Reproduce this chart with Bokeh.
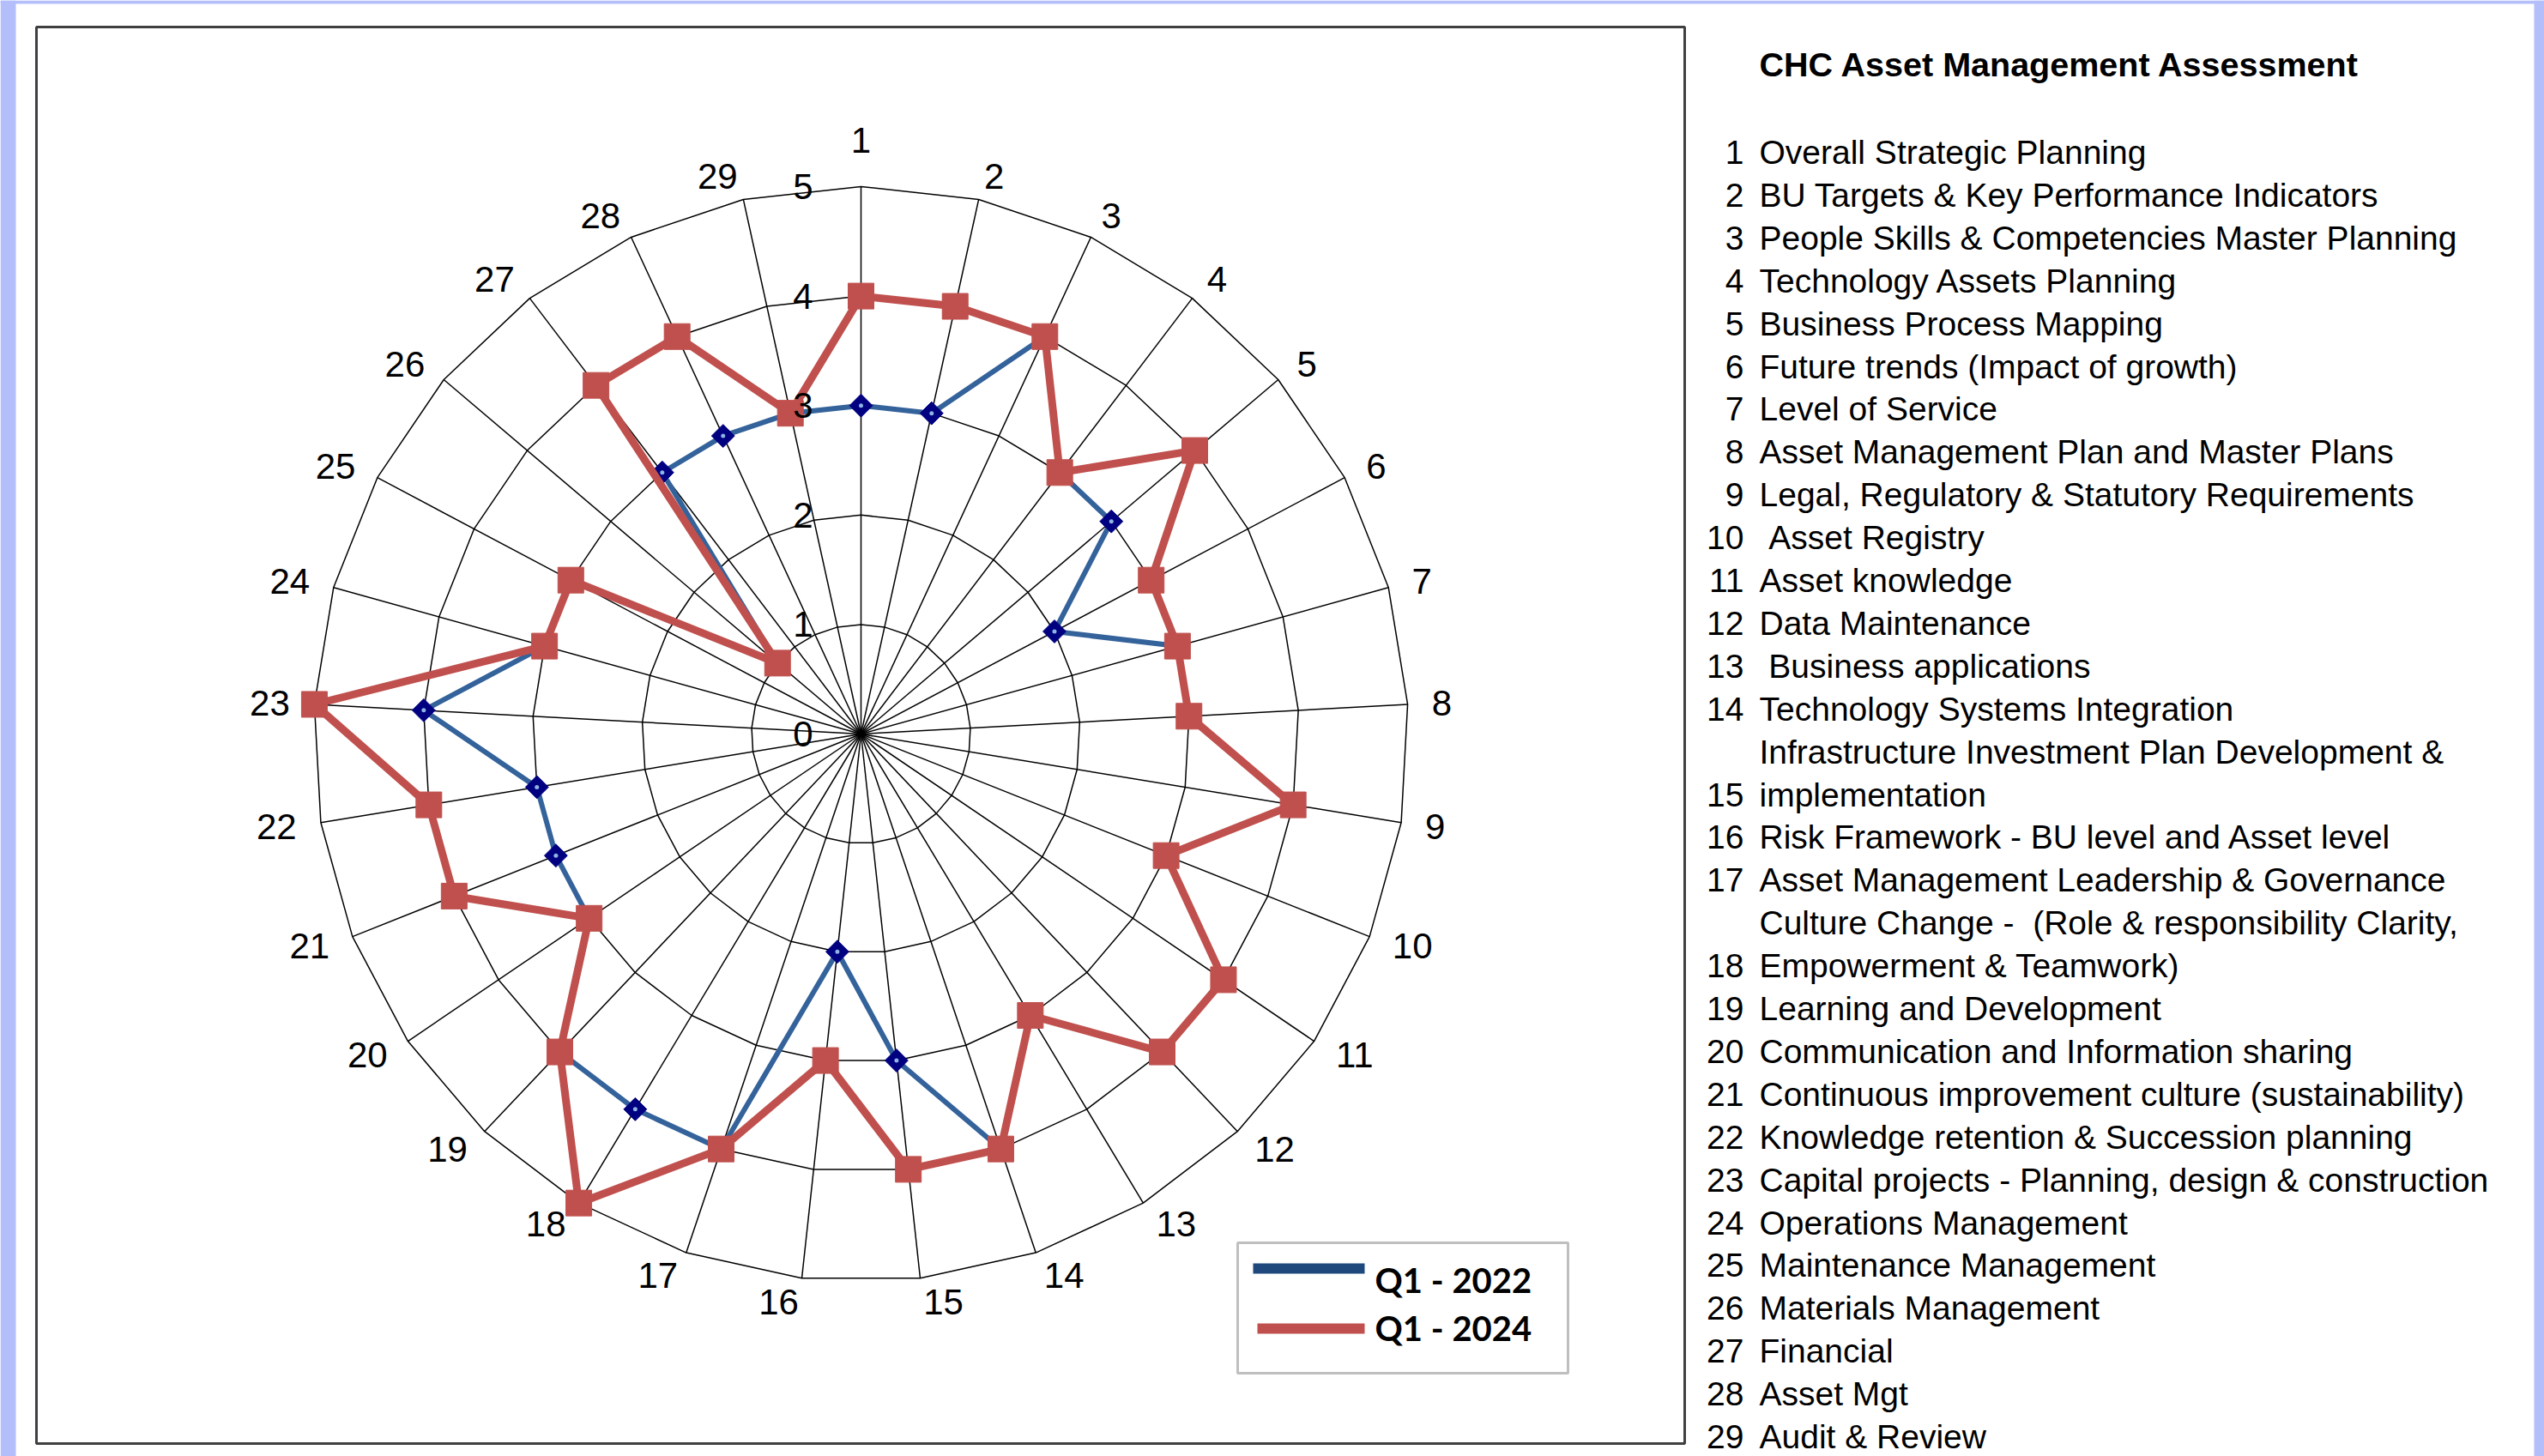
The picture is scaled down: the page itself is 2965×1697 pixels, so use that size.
import math
from bokeh.plotting import figure
from bokeh.models import Range1d
from bokeh.core.properties import value
from bokeh.embed import file_html
from bokeh.resources import INLINE

# ---------------- data ----------------
categories = [str(i) for i in range(1, 30)]
ring_ticks = [0, 1, 2, 3, 4, 5]
series_names = ["Q1 - 2022", "Q1 - 2024"]
q1_2022 = [3, 3, 4, 3, 3, 2, 3, 3, 4, 3, 4, 4, 3, 4, 3, 2, 4, 4, 4, 3, 3, 3, 4, 3, 3, 1, 3, 3, 3]
q1_2024 = [4, 4, 4, 3, 4, 3, 3, 3, 4, 3, 4, 4, 3, 4, 4, 3, 4, 5, 4, 3, 4, 4, 5, 3, 3, 1, 4, 4, 3]
title_text = "CHC Asset Management Assessment"
item_lines = [
    ["Overall Strategic Planning"],
    ["BU Targets & Key Performance Indicators"],
    ["People Skills & Competencies Master Planning"],
    ["Technology Assets Planning"],
    ["Business Process Mapping"],
    ["Future trends (Impact of growth)"],
    ["Level of Service"],
    ["Asset Management Plan and Master Plans"],
    ["Legal, Regulatory & Statutory Requirements"],
    ["\u00a0Asset Registry"],
    ["Asset knowledge"],
    ["Data Maintenance"],
    ["\u00a0Business applications"],
    ["Technology Systems Integration"],
    ["Infrastructure Investment Plan Development &", "implementation"],
    ["Risk Framework - BU level and Asset level"],
    ["Asset Management Leadership & Governance"],
    ["Culture Change -\u00a0 (Role & responsibility Clarity,", "Empowerment & Teamwork)"],
    ["Learning and Development"],
    ["Communication and Information sharing"],
    ["Continuous improvement culture (sustainability)"],
    ["Knowledge retention & Succession planning"],
    ["Capital projects - Planning, design & construction"],
    ["Operations Management"],
    ["Maintenance Management"],
    ["Materials Management"],
    ["Financial"],
    ["Asset Mgt"],
    ["Audit & Review"],
]

# ---------------- layout ----------------
W, H = 2965, 1697
CX, CY = 1003.0, 855.0
UNIT = 127.6
N = len(categories)
RED = "#C0504D"
BLUE = "#34629A"
LAV = "#B4BEFA"
FONT = value("Liberation Sans")


def pol(v, i):
    t = 2 * math.pi * i / N
    return CX + v * UNIT * math.sin(t), CY - v * UNIT * math.cos(t)


p = figure(width=W, height=H, x_range=Range1d(0, W), y_range=Range1d(H, 0),
           output_backend="svg", toolbar_location=None, min_border=0,
           x_axis_type=None, y_axis_type=None, outline_line_color=None,
           background_fill_color="white", border_fill_color="white")
p.grid.visible = False

# page decorations
p.quad(left=[0], right=[18], top=[0], bottom=[H], fill_color=LAV, line_color=None)
p.quad(left=[0], right=[W], top=[0], bottom=[4], fill_color=LAV, line_color=None)
p.quad(left=[2953], right=[W], top=[0], bottom=[H], fill_color=LAV, line_color=None)
p.quad(left=[42], right=[1963], top=[31], bottom=[1682], fill_color=None,
       line_color="#404040", line_width=3)

# grid rings (polygons) and spokes
rx, ry = [], []
for k in ring_ticks[1:]:
    pts = [pol(k, i) for i in range(N)] + [pol(k, 0)]
    rx.append([q[0] for q in pts])
    ry.append([q[1] for q in pts])
p.multi_line(rx, ry, line_color="black", line_width=1.5)
ends = [pol(ring_ticks[-1], i) for i in range(N)]
p.segment(x0=[CX] * N, y0=[CY] * N, x1=[e[0] for e in ends], y1=[e[1] for e in ends],
          line_color="black", line_width=1.5)

# category labels
lx, ly = [], []
for i, lab in enumerate(categories):
    t = 2 * math.pi * i / N
    s, c = math.sin(t), math.cos(t)
    ex, ey = pol(ring_ticks[-1], i)
    half = 12 * len(lab)
    sg = 0 if abs(s) < 1e-6 else (1 if s > 0 else -1)
    ox = sg * half + 28 * s
    oy = -28 * c
    if sg == 0:
        oy -= 26 * (1 if c > 0 else -1)
    lx.append(ex + ox)
    ly.append(ey + oy)
p.text(x=lx, y=ly, text=categories, text_align="center", text_baseline="middle",
       text_font=FONT, text_font_size="42px", text_color="black")

# series
b_pts = [pol(v, i) for i, v in enumerate(q1_2022)]
r_pts = [pol(v, i) for i, v in enumerate(q1_2024)]
bx = [q[0] for q in b_pts]; by = [q[1] for q in b_pts]
rxs = [q[0] for q in r_pts]; rys = [q[1] for q in r_pts]
p.line(bx + bx[:1], by + by[:1], line_color=BLUE, line_width=6, line_join="round")
p.scatter(bx, by, marker="square", angle=math.pi / 4, size=19, fill_color="#000080",
          line_color="#000080")
p.scatter(bx, by, marker="circle", size=5, fill_color="#8DB4E2", line_color=None)
p.line(rxs + rxs[:1], rys + rys[:1], line_color=RED, line_width=9, line_join="miter")
p.scatter(rxs, rys, marker="square", size=30, fill_color=RED, line_color=RED)

# ring value labels (drawn above the series, as in the reference)
p.text(x=[CX - 56] * len(ring_ticks), y=[CY - k * UNIT for k in ring_ticks],
       text=[str(k) for k in ring_ticks], text_align="right", text_baseline="middle",
       text_font=FONT, text_font_size="42px", text_color="black")

# legend
p.quad(left=[1442], right=[1827], top=[1448], bottom=[1600], fill_color="white",
       line_color="#BFBFBF", line_width=3)
p.segment(x0=[1460, 1465], y0=[1478, 1548], x1=[1590, 1590], y1=[1478, 1548],
          line_color=["#1F497D", RED], line_width=12)
p.text(x=[1602, 1602], y=[1491, 1547], text=series_names, text_align="left",
       text_baseline="middle", text_font=value("Lato"), text_font_style="bold",
       text_font_size="40px", text_color="black")

# title and description list
p.text(x=[2050], y=[74], text=[title_text], text_align="left", text_baseline="middle",
       text_font=FONT, text_font_style="bold", text_font_size="39.5px", text_color="black")
nums, nx, ny, txt, tx, ty = [], [], [], [], [], []
row = 0
for idx, lines in enumerate(item_lines):
    for j, ln in enumerate(lines):
        y = 177 + 49.9 * row
        txt.append(ln); tx.append(2050); ty.append(y)
        if j == len(lines) - 1:
            nums.append(categories[idx]); nx.append(2032); ny.append(y)
        row += 1
p.text(x=nx, y=ny, text=nums, text_align="right", text_baseline="middle",
       text_font=FONT, text_font_size="39px", text_color="black")
p.text(x=tx, y=ty, text=txt, text_align="left", text_baseline="middle",
       text_font=FONT, text_font_size="39px", text_color="black")

open("out.html", "w").write(file_html(p, INLINE))
